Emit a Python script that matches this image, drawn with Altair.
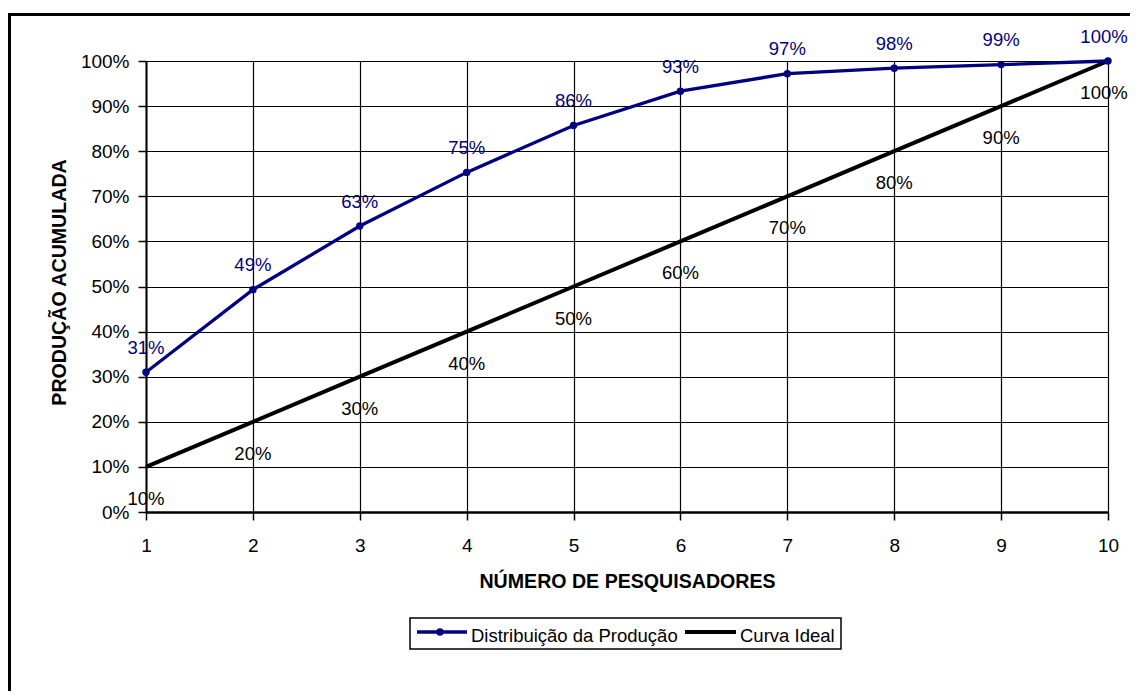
import altair as alt
import pandas as pd

# ---- data ----
pesquisadores = [1, 2, 3, 4, 5, 6, 7, 8, 9, 10]
distribuicao = [0.310, 0.493, 0.634, 0.753, 0.857, 0.933, 0.972, 0.984, 0.992, 1.000]
curva_ideal = [0.10, 0.20, 0.30, 0.40, 0.50, 0.60, 0.70, 0.80, 0.90, 1.00]
series_names = ["Distribuição da Produção", "Curva Ideal"]
y_ticks = [0.0, 0.1, 0.2, 0.3, 0.4, 0.5, 0.6, 0.7, 0.8, 0.9, 1.0]

df = pd.DataFrame({
    "x": pesquisadores * 2,
    "y": distribuicao + curva_ideal,
    "serie": [series_names[0]] * len(pesquisadores) + [series_names[1]] * len(pesquisadores),
})

FONT = "Liberation Sans"
BLUE = "#000080"
W, H = 962, 451

x_enc = alt.X(
    "x:Q",
    scale=alt.Scale(domain=[1, 10], nice=False, zero=False),
    axis=alt.Axis(
        values=pesquisadores,
        title="NÚMERO DE PESQUISADORES",
        titleFontSize=19.6, titleFontWeight="bold", titleFont=FONT, titleColor="black",
        titleBaseline="alphabetic", titleY=75,
        labelFontSize=19, labelFont=FONT, labelColor="black", labelPadding=16,
        tickSize=8, tickColor="black", tickWidth=1.5,
        domainColor="black", domainWidth=2.5,
        grid=True, gridColor="black", gridWidth=1.2, gridOpacity=1,
        labelFlush=False,
    ),
)
y_enc = alt.Y(
    "y:Q",
    scale=alt.Scale(domain=[0, 1], nice=False),
    axis=alt.Axis(
        values=y_ticks, format=".0%",
        title="PRODUÇÃO ACUMULADA",
        titleFontSize=19.6, titleFontWeight="bold", titleFont=FONT, titleColor="black",
        titleAngle=270, titleBaseline="alphabetic", titleX=-81, titleY=221,
        labelFontSize=19, labelFont=FONT, labelColor="black", labelPadding=9,
        tickSize=8, tickColor="black", tickWidth=1.5,
        domainColor="black", domainWidth=2,
        grid=True, gridColor="black", gridWidth=1.2, gridOpacity=1,
        labelFlush=False,
    ),
)

base = alt.Chart(df)
dist_f = alt.datum.serie == series_names[0]
ideal_f = alt.datum.serie == series_names[1]
inner_f = alt.datum.x < 10
edge_f = alt.datum.x == 10


def labels(series_filter, color, dy, dx=0):
    return lambda pos_filter: base.transform_filter(series_filter).transform_filter(pos_filter).mark_text(
        color=color, font=FONT, fontSize=18.5, baseline="alphabetic", dy=dy, dx=dx
    ).encode(x=x_enc, y=y_enc, text=alt.Text("y:Q", format=".0%"))


ideal_line = base.transform_filter(ideal_f).mark_line(color="black", strokeWidth=4).encode(x=x_enc, y=y_enc)
ideal_text = labels(ideal_f, "black", 38)(inner_f)
ideal_text_edge = labels(ideal_f, "black", 38, -4)(edge_f)

dist_line = base.transform_filter(dist_f).mark_line(color=BLUE, strokeWidth=3.3).encode(x=x_enc, y=y_enc)
dist_pts = base.transform_filter(dist_f).mark_point(
    color=BLUE, filled=True, size=55, opacity=1
).encode(x=x_enc, y=y_enc)
dist_text = labels(dist_f, BLUE, -18.5)(inner_f)
dist_text_edge = labels(dist_f, BLUE, -18.5, -4)(edge_f)

# ---- manual legend ----
one = pd.DataFrame({"k": [0]})
leg_box = alt.Chart(one).mark_rect(
    fillOpacity=0, stroke="black", strokeWidth=1.5
).encode(x=alt.value(264), x2=alt.value(695), y=alt.value(557), y2=alt.value(588))
leg_blue = alt.Chart(one).mark_rule(color=BLUE, strokeWidth=3.3).encode(
    x=alt.value(271), x2=alt.value(321), y=alt.value(571))
leg_dot = alt.Chart(one).mark_point(color=BLUE, filled=True, size=55, opacity=1).encode(
    x=alt.value(294), y=alt.value(571))
leg_black = alt.Chart(one).mark_rule(color="black", strokeWidth=4).encode(
    x=alt.value(539), x2=alt.value(590), y=alt.value(571))
leg_t1 = alt.Chart(one).mark_text(
    text=series_names[0], font=FONT, fontSize=18.5, align="left", baseline="alphabetic", color="black"
).encode(x=alt.value(325), y=alt.value(581))
leg_t2 = alt.Chart(one).mark_text(
    text=series_names[1], font=FONT, fontSize=18.5, align="left", baseline="alphabetic", color="black"
).encode(x=alt.value(594), y=alt.value(581))

# ---- outer frame ----
frame = alt.Chart(one).mark_rect(
    fillOpacity=0, stroke="black", strokeWidth=3
).encode(x=alt.value(-136.5), x2=alt.value(1300), y=alt.value(-46.5), y2=alt.value(900))

chart = alt.layer(
    ideal_line, dist_line, dist_pts, ideal_text, ideal_text_edge, dist_text, dist_text_edge,
    leg_box, leg_blue, leg_dot, leg_black, leg_t1, leg_t2, frame,
).properties(
    width=W, height=H,
    autosize=alt.AutoSizeParams(type="none"),
    padding={"left": 138, "top": 53, "right": 22, "bottom": 179},
    background="white",
).configure_view(stroke=None)

chart.save("out.html", embed_options={"renderer": "svg", "actions": False})
